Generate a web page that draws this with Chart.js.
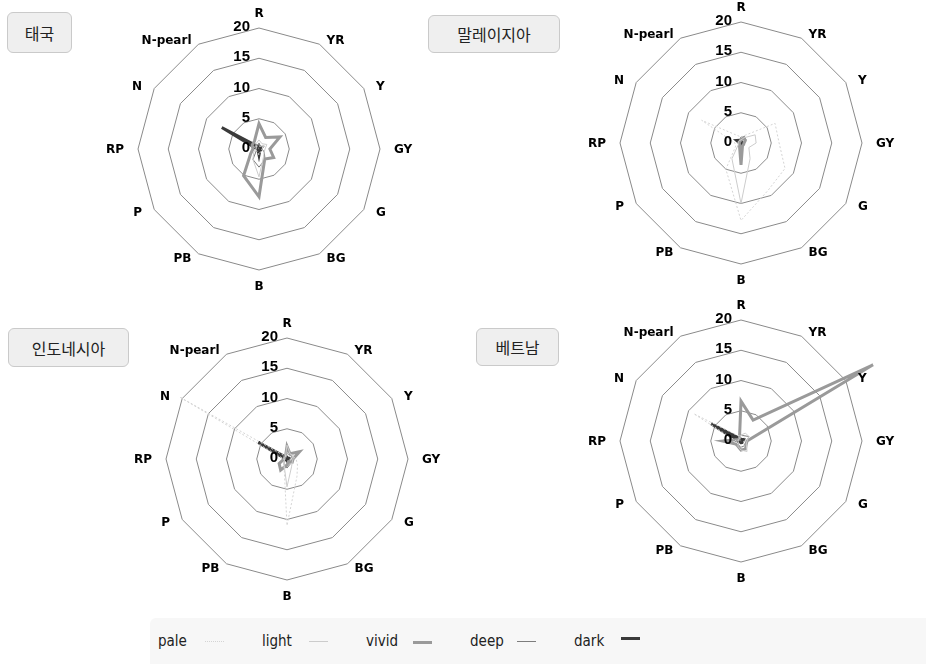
<!DOCTYPE html>
<html>
<head>
<meta charset="utf-8">
<script src="https://cdn.jsdelivr.net/npm/chart.js@4/dist/chart.umd.min.js"></script>
<style>
    body { margin: 0; width: 926px; height: 664px; position: relative; overflow: hidden; background: #fff; }
    .country {
        position: absolute; box-sizing: border-box; height: 39px;
        background: #efefef; border: 1px solid #cacaca; border-radius: 6px;
        font: 16px "Noto Sans CJK KR", sans-serif; color: #222;
        display: flex; align-items: center; justify-content: center;
    }
    .graph { position: absolute; }
    #legend {
        position: absolute; left: 150px; top: 618px; width: 776px; height: 46px;
        background: #f7f7f7; border-radius: 6px 0 0 0;
        display: flex; align-items: center; padding-left: 8px; box-sizing: border-box;
        font: 15px "Liberation Sans Narrow", "DejaVu Sans Condensed", sans-serif; color: #222;
    }
    .legend-item { position: relative; width: 104px; height: 20px; line-height: 20px; }
    .legend-swatch { position: absolute; left: 47px; top: 10px; width: 19px; height: 0; }
</style>
</head>
<body>
<div class="country" style="left:7px;top:12px;width:65px;height:41px">태국</div>
<div class="country" style="left:428px;top:15px;width:132px;height:38px">말레이지아</div>
<div class="country" style="left:8px;top:328px;width:121px">인도네시아</div>
<div class="country" style="left:476px;top:328px;width:83px;height:38px">베트남</div>

<canvas id="thaiGraph" class="graph" width="320" height="300" style="left:99px;top:-1px"></canvas>
<canvas id="malaysiaGraph" class="graph" width="320" height="300" style="left:581px;top:-7px"></canvas>
<canvas id="indonesiaGraph" class="graph" width="320" height="300" style="left:127px;top:309px"></canvas>
<canvas id="vietnamGraph" class="graph" width="320" height="300" style="left:581px;top:291px"></canvas>

<div id="legend"></div>

<script>
const categories = ['R', 'YR', 'Y', 'GY', 'G', 'BG', 'B', 'PB', 'P', 'RP', 'N', 'N-pearl'];
const rTicks = [0, 5, 10, 15, 20];
const seriesNames = ['pale', 'light', 'vivid', 'deep', 'dark'];

// 태국
const thaiPale  = [0.5, 0.5, 1, 0.5, 0.5, 0.5, 1, 0.5, 0.5, 0.5, 1, 0.5];
const thaiLight = [1.5, 1, 1.5, 1, 1, 1.5, 4.6, 2, 1, 0.5, 0.5, 1];
const thaiVivid = [4.2, 2.2, 4, 1.8, 2.8, 1.9, 7.9, 5.1, 1.6, 1, 1.3, 1.5];
const thaiDeep  = [1, 0.5, 1, 0.5, 1, 2, 3, 2, 0.5, 0.5, 0.5, 0.5];
const thaiDark  = [0.5, 0.3, 0.3, 0.3, 0.3, 0.3, 1, 0.3, 0.3, 0.3, 7.1, 0.5];

// 말레이지아
const malaysiaPale  = [1, 1.5, 6.5, 6.3, 8.4, 9, 12.8, 5, 1, 1, 7.5, 1.5];
const malaysiaLight = [0.5, 1, 2.7, 2.5, 1.5, 3, 10, 3, 0.5, 0.5, 0.5, 0.5];
const malaysiaVivid = [0.5, 1, 0.8, 0.5, 0.5, 0.5, 3.6, 0.5, 0.3, 0.3, 0.3, 0.3];
const malaysiaDeep  = [1, 1.2, 1, 0.5, 0.5, 0.5, 1.5, 0.5, 0.3, 0.3, 0.5, 0.5];
const malaysiaDark  = [0.3, 0.2, 0.2, 0.2, 0.2, 0.2, 0.3, 0.2, 0.2, 0.2, 0.8, 0.5];

// 인도네시아
const indonesiaPale  = [1, 1, 1, 1.5, 2, 3.3, 11, 1, 0.5, 0.5, 20.5, 0.5];
const indonesiaLight = [2.3, 1, 1.2, 1, 1, 1.5, 4.6, 1, 0.5, 0.5, 0.5, 0.5];
const indonesiaVivid = [2.1, 1, 2.4, 1, 1, 0.5, 1, 2.1, 1.5, 0.5, 0.5, 0.5];
const indonesiaDeep  = [1, 0.8, 1, 0.5, 0.5, 1, 1.5, 1, 0.5, 0.3, 0.3, 0.5];
const indonesiaDark  = [0.3, 0.2, 0.3, 0.2, 0.2, 0.2, 0.3, 0.2, 0.2, 0.2, 5.5, 0.3];

// 베트남
const vietnamPale  = [1, 0.8, 0.8, 0.5, 0.5, 1, 1, 0.5, 0.5, 0.8, 9, 1];
const vietnamLight = [1, 1.5, 1.5, 1, 1, 2, 1.5, 1, 0.5, 0.5, 0.5, 0.5];
const vietnamVivid = [6.6, 4, 25.2, 1, 1, 1.5, 1.5, 1, 1, 3, 0.5, 0.5];
const vietnamDeep  = [1, 1, 1.5, 1, 0.8, 1, 1, 0.8, 0.5, 1, 0.5, 0.5];
const vietnamDark  = [0.3, 0.3, 0.5, 0.3, 0.3, 0.3, 0.3, 0.3, 0.3, 0.5, 5.7, 0.5];

// line look per series, same order as seriesNames
const seriesStyles = [
    { color: '#d4d4d4', width: 1, dash: [2, 2] },
    { color: '#cccccc', width: 1, dash: [] },
    { color: '#9a9a9a', width: 3, dash: [] },
    { color: '#7d7d7d', width: 1, dash: [] },
    { color: '#3a3a3a', width: 3, dash: [] }
];

// axis and tick labels drawn next to the rings
const radarLabels = {
    id: 'radarLabels',
    afterDraw(chart) {
        const scale = chart.scales.r;
        const ctx = chart.ctx;
        ctx.save();
        ctx.fillStyle = '#000';
        ctx.font = 'bold 12px "DejaVu Sans"';
        categories.forEach((label, i) => {
            const deg = Math.round(scale.getIndexAngle(i) * 180 / Math.PI) % 360;
            if (deg === 0 || deg === 180) {
                const pos = scale.getPointPosition(i, scale.drawingArea + 11);
                ctx.textAlign = 'center';
                ctx.textBaseline = deg === 0 ? 'alphabetic' : 'top';
                ctx.fillText(label, pos.x, pos.y);
                return;
            }
            // side labels sit a bit wider than they sit tall
            const outer = scale.getPointPosition(i, scale.drawingArea + 14);
            const inner = scale.getPointPosition(i, scale.drawingArea + 5);
            ctx.textAlign = deg < 180 ? 'left' : 'right';
            ctx.textBaseline = 'middle';
            ctx.fillText(label, outer.x, inner.y + 1);
        });
        ctx.font = 'bold 15px "Liberation Sans"';
        ctx.textAlign = 'right';
        ctx.textBaseline = 'middle';
        scale.ticks.forEach(tick => {
            const offset = scale.getDistanceFromCenterForValue(tick.value);
            ctx.fillText(String(tick.value), scale.xCenter - 9, scale.yCenter - offset - 1);
        });
        ctx.restore();
    }
};

// build config for one country radar
function _build_radar_config(seriesValues) {
    const datasets = seriesValues.map((values, i) => ({
        label: seriesNames[i],
        data: values,
        borderColor: seriesStyles[i].color,
        borderWidth: seriesStyles[i].width,
        borderDash: seriesStyles[i].dash,
        backgroundColor: 'transparent',
        fill: false,
        pointRadius: 0,
        pointHoverRadius: 0,
        clip: false
    }));
    return {
        type: 'radar',
        data: { labels: categories, datasets: datasets },
        options: {
            responsive: false,
            animation: false,
            events: [],
            layout: { padding: { left: 39, right: 39, top: 29, bottom: 29 } },
            plugins: { legend: { display: false }, tooltip: { enabled: false } },
            scales: {
                r: {
                    min: 0,
                    max: 20,
                    afterBuildTicks: scale => { scale.ticks = rTicks.map(v => ({ value: v })); },
                    ticks: { display: false },
                    grid: { color: '#8a8a8a', lineWidth: 1 },
                    angleLines: { display: false },
                    pointLabels: { display: false }
                }
            }
        },
        plugins: [radarLabels]
    };
}

// function to create a radar graph on the given canvas
function create_radar_graph(canvasId, seriesValues) {
    return new Chart(canvasId, _build_radar_config(seriesValues));
}

// legend strip under the graphs
function create_legend() {
    const legend = document.getElementById('legend');
    seriesNames.forEach((name, i) => {
        const item = document.createElement('div');
        item.className = 'legend-item';
        item.textContent = name;
        const swatch = document.createElement('span');
        swatch.className = 'legend-swatch';
        const style = seriesStyles[i];
        swatch.style.borderTop = `${style.width}px ${style.dash.length ? 'dotted' : 'solid'} ${style.color}`;
        if (i === 4) { swatch.style.top = '6px'; }
        item.appendChild(swatch);
        legend.appendChild(item);
    });
}

create_radar_graph('thaiGraph', [thaiPale, thaiLight, thaiVivid, thaiDeep, thaiDark]);
create_radar_graph('malaysiaGraph', [malaysiaPale, malaysiaLight, malaysiaVivid, malaysiaDeep, malaysiaDark]);
create_radar_graph('indonesiaGraph', [indonesiaPale, indonesiaLight, indonesiaVivid, indonesiaDeep, indonesiaDark]);
create_radar_graph('vietnamGraph', [vietnamPale, vietnamLight, vietnamVivid, vietnamDeep, vietnamDark]);
create_legend();
</script>
</body>
</html>
